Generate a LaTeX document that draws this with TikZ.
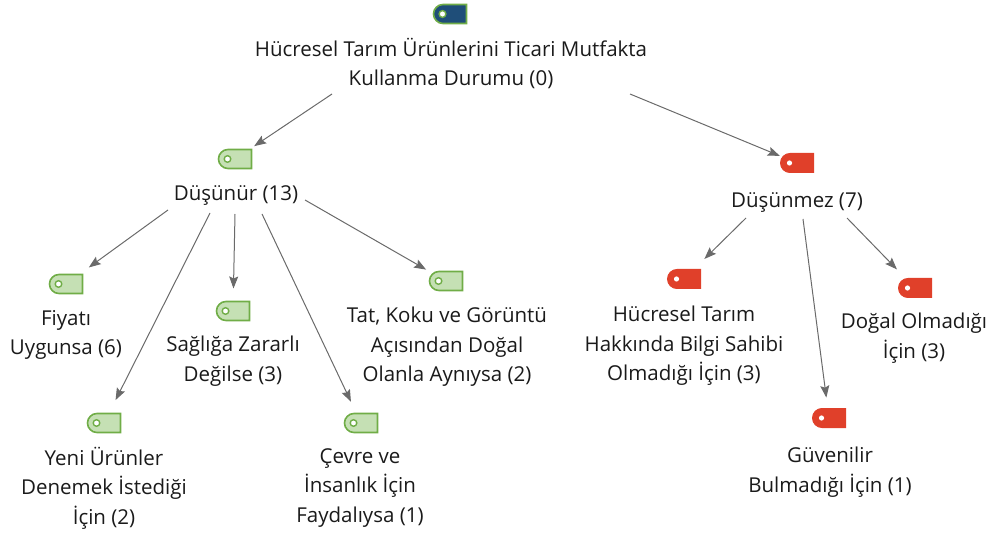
\documentclass[tikz,border=0pt]{standalone}
\usepackage{fontspec}
\setmainfont{Open Sans}
\usetikzlibrary{arrows.meta,shapes.misc}

\definecolor{tagGreen}{HTML}{70AD47}
\definecolor{tagGreenFill}{HTML}{C5E0B4}
\definecolor{tagRed}{HTML}{E0402A}
\definecolor{tagBlue}{HTML}{1F4E79}
\definecolor{arrowGray}{HTML}{6A6A6A}
\definecolor{labelInk}{HTML}{1A1A1A}

\tikzset{
  tagbase/.style={rounded rectangle, rounded rectangle right arc=none,
    minimum width=33pt, minimum height=19pt, inner sep=0pt, outer sep=0pt},
  greentag/.style={tagbase, draw=tagGreen, fill=tagGreenFill, line width=1.6pt,
    path picture={\draw[tagGreen, fill=white, line width=1.4pt]
      ([xshift=9pt]path picture bounding box.west) circle (3.3pt);}},
  redtag/.style={tagbase, draw=tagRed, fill=tagRed, line width=1pt,
    path picture={\fill[white]
      ([xshift=9pt]path picture bounding box.west) circle (2.6pt);}},
  roottag/.style={tagbase, draw=tagGreen, fill=tagBlue, line width=1.6pt,
    path picture={\draw[tagGreen, fill=white, line width=1.4pt]
      ([xshift=9pt]path picture bounding box.west) circle (3.4pt);}},
  label/.style={align=center, inner sep=0pt, text=labelInk,
    font=\fontsize{20.5}{29.5}\selectfont},
  link/.style={draw=arrowGray, line width=1pt,
    -{Stealth[length=12pt, width=9pt, inset=2pt]}}
}

\begin{document}
\begin{tikzpicture}[x=1pt, y=-1pt]
\useasboundingbox (0,0) rectangle (990,534);

% root
\node[roottag] (tRoot) at (450,14) {};
\node[label] (root) at (451,63.5) {Hücresel Tarım Ürünlerini Ticari Mutfakta\\Kullanma Durumu (0)};

% first level
\node[greentag] (tDus) at (235,159) {};
\node[label] (dus) at (236,196) {Düşünür (13)};
\node[redtag] (tDmz) at (797,163) {};
\node[label] (dmz) at (797,203) {Düşünmez (7)};

% reasons for "Düşünür"
\node[greentag] (tFiy) at (66,284) {};
\node[label] (fiy) at (66,335) {Fiyatı\\Uygunsa (6)};
\node[greentag] (tSag) at (233,311) {};
\node[label] (sag) at (233,361) {Sağlığa Zararlı\\Değilse (3)};
\node[greentag] (tTat) at (446,281) {};
\node[label] (tat) at (447,347) {Tat, Koku ve Görüntü\\Açısından Doğal\\Olanla Aynıysa (2)};
\node[greentag] (tYen) at (104,423) {};
\node[label] (yen) at (104,488) {Yeni Ürünler\\Denemek İstediği\\İçin (2)};
\node[greentag] (tCev) at (361,423) {};
\node[label] (cev) at (360,488) {Çevre ve\\İnsanlık İçin\\Faydalıysa (1)};

% reasons for "Düşünmez"
\node[redtag] (tHuc) at (684,279) {};
\node[label] (huc) at (684,346) {Hücresel Tarım\\Hakkında Bilgi Sahibi\\Olmadığı İçin (3)};
\node[redtag] (tDog) at (915,288) {};
\node[label] (dog) at (914,338) {Doğal Olmadığı\\İçin (3)};
\node[redtag] (tGuv) at (829,418) {};
\node[label] (guv) at (830,472) {Güvenilir\\Bulmadığı İçin (1)};

% connectors
\draw[link, shorten >=6pt] ([shift={(-119,30.5)}]root.center) -- (tDus);
\draw[link, shorten >=3pt] ([shift={(179,30.5)}]root.center) -- (tDmz);

\draw[link, shorten >=12pt] ([shift={(-68,14)}]dus.center) -- (tFiy);
\draw[link, shorten >=15pt] ([shift={(-26,17)}]dus.center) -- (tYen);
\draw[link, shorten >=13pt] ([shift={(-1,18)}]dus.center) -- (tSag);
\draw[link, shorten >=13pt] ([shift={(26,18)}]dus.center) -- (tCev);
\draw[link, shorten >=8pt] ([shift={(69,4)}]dus.center) -- (tTat);

\draw[link, shorten >=15pt] ([shift={(-51,15)}]dmz.center) -- (tHuc);
\draw[link, shorten >=11pt] ([shift={(6,16)}]dmz.center) -- (tGuv);
\draw[link, shorten >=13pt] ([shift={(50,15)}]dmz.center) -- (tDog);
\end{tikzpicture}
\end{document}
